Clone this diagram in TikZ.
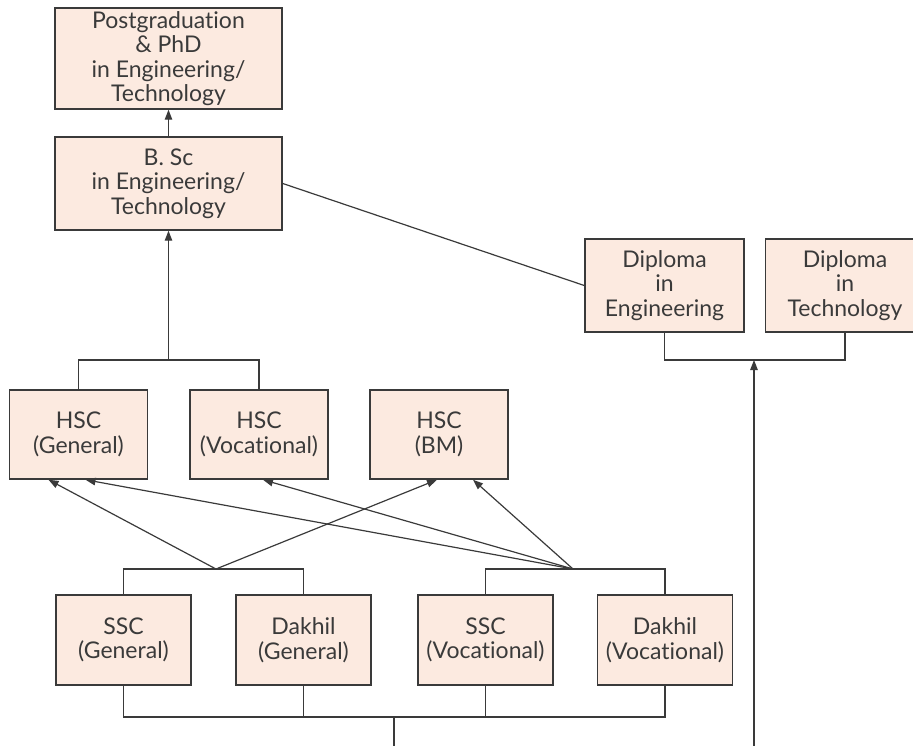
\documentclass[tikz,border=0pt]{standalone}
\usepackage{fontspec}
\setmainfont{Lato}[Ligatures=CommonOff]
\usepackage{tikz}
\usetikzlibrary{arrows.meta}
\definecolor{boxfill}{RGB}{252,234,224}
\definecolor{ink}{RGB}{58,58,58}

\begin{document}
\begin{tikzpicture}[
            x=1pt, y=-1pt,
            box/.style={draw=ink, line width=1.5pt, fill=boxfill, text=ink, align=center, inner sep=0pt},
            link/.style={draw=ink, line width=1.2pt},
            arr/.style={link, -{Triangle[length=10pt, width=7.5pt]}},
            font={\fontsize{23pt}{24.5pt}\selectfont}
        ]
        \useasboundingbox (0,0) rectangle (913,746);
        % degrees
        \node[box, minimum width=227, minimum height=101] (pg) at (168.5,58.5) {Postgraduation\\ \& PhD\\ in Engineering/\\ Technology};
        \node[box, minimum width=227, minimum height=93] (bsc) at (168.5,183.5) {B. Sc\\ in Engineering/\\ Technology};
        \node[box, minimum width=159, minimum height=93] (dipeng) at (664.5,285.5) {Diploma\\ in\\ Engineering};
        \node[box, minimum width=159, minimum height=93] (diptech) at (845,285.5) {Diploma\\ in\\ Technology};
        % HSC level
        \node[box, minimum width=138, minimum height=89] (hscgen) at (78.5,434.5) {HSC\\ (General)};
        \node[box, minimum width=138, minimum height=89] (hscvoc) at (259,434.5) {HSC\\ (Vocational)};
        \node[box, minimum width=138, minimum height=89] (hscbm) at (439,434.5) {HSC\\ (BM)};
        % SSC level
        \node[box, minimum width=135, minimum height=90] (sscgen) at (123.5,640) {SSC\\ (General)};
        \node[box, minimum width=135, minimum height=90] (dakgen) at (303.5,640) {Dakhil\\ (General)};
        \node[box, minimum width=135, minimum height=90] (sscvoc) at (485.5,640) {SSC\\ (Vocational)};
        \node[box, minimum width=135, minimum height=90] (dakvoc) at (665,640) {Dakhil\\ (Vocational)};

        % junction points
        \coordinate (hscj) at (168.5,360);
        \coordinate (dipj) at (754,360);
        \coordinate (dipin) at (754,746);
        \coordinate (genj) at (216,569);
        \coordinate (vocj) at (573,569);
        \coordinate (sscj) at (394,717);
        \coordinate (sscout) at (394,746);

        \draw[arr] (bsc.north) -- (pg.south);
        \draw[link] (hscgen.north) |- (hscj) -| (hscvoc.north);
        \draw[arr] (hscj) -- (bsc.south);
        \draw[link] (bsc.east) -- (dipeng.west);
        \draw[link] (dipeng.south) |- (dipj) -| (diptech.south);
        \draw[arr] (dipin) -- (dipj);

        % SSC -> HSC
        \draw[link] (sscgen.north) |- (genj) -| (dakgen.north);
        \draw[link] (sscvoc.north) |- (vocj) -| (dakvoc.north);
        \draw[arr] (genj) -- ([xshift=-30]hscgen.south);
        \draw[arr] (genj) -- ([xshift=-2]hscbm.south);
        \draw[arr] (vocj) -- ([xshift=7]hscgen.south);
        \draw[arr] (vocj) -- ([xshift=4]hscvoc.south);
        \draw[arr] (vocj) -- ([xshift=34]hscbm.south);

        % bottom bracket
        \draw[link] (sscgen.south) |- (sscj) -| (dakvoc.south);
        \draw[link] (dakgen.south) -- (dakgen.south |- sscj);
        \draw[link] (sscvoc.south) -- (sscvoc.south |- sscj);
        \draw[link] (sscj) -- (sscout);
    \end{tikzpicture}
\end{document}
